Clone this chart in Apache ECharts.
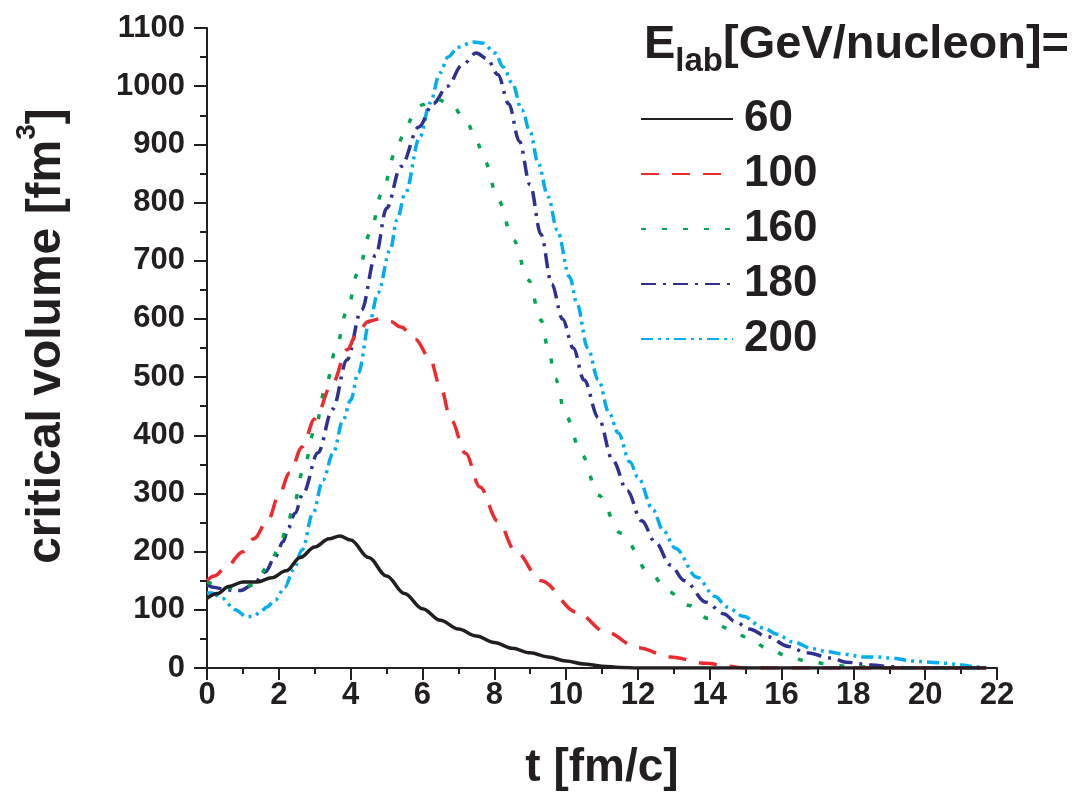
<!DOCTYPE html>
<html>
<head>
<meta charset="utf-8">
<script src="https://cdn.jsdelivr.net/npm/echarts@6/dist/echarts.min.js"></script>
<style>
html,body{margin:0;padding:0;background:#fff;}
#c{width:1088px;height:796px;}
</style>
</head>
<body>
<div id="c"></div>
<script>
// ---- data ----
const seriesNames = ['60', '100', '160', '180', '200'];
const xTicks = [0, 2, 4, 6, 8, 10, 12, 14, 16, 18, 20, 22];
const yTicks = [0, 100, 200, 300, 400, 500, 600, 700, 800, 900, 1000, 1100];

const t60 = [0, 0.3, 0.6, 1.0, 1.4, 1.8, 2.2, 2.6, 3.0, 3.4, 3.7, 4.0, 4.5, 5.0, 5.5, 6.0, 6.5, 7.0, 7.5, 8.0, 8.5, 9.0, 9.5, 10.0, 10.5, 11.0, 11.5, 12.0, 21.7];
const v60 = [120, 128, 140, 148, 148, 155, 167, 190, 208, 222, 227, 220, 190, 158, 128, 102, 82, 67, 55, 44, 34, 26, 19, 12, 7, 3, 1, 0, 0];

const t100 = [0, 0.2, 0.5, 1.0, 1.3, 1.7, 2.0, 2.3, 2.65, 3.0, 3.5, 3.9, 4.2, 4.5, 4.8, 5.1, 5.4, 5.8, 6.2, 6.5, 6.8, 7.2, 7.6, 8.1, 8.6, 9.3, 10.3, 11.1, 12.0, 12.9, 13.9, 14.5, 15.0, 21.7];
const v100 = [150, 158, 171, 200, 222, 254, 297, 335, 380, 428, 490, 547, 578, 596, 600, 596, 586, 565, 533, 483, 426, 369, 311, 252, 200, 150, 96, 62, 35, 19, 8, 3, 0, 0];

const t160 = [0, 0.3, 0.7, 1.0, 1.3, 1.7, 2.0, 2.23, 2.4, 2.68, 3.0, 3.29, 3.57, 3.89, 4.21, 4.54, 4.87, 5.24, 5.47, 5.75, 6.0, 6.3, 6.77, 7.23, 7.51, 7.74, 8.11, 8.53, 8.95, 9.3, 9.5, 9.7, 10.0, 10.44, 10.9, 11.52, 12.34, 12.85, 13.4, 13.96, 14.52, 15.07, 15.6, 16.15, 16.7, 17.27, 17.8, 19.0, 21.7];
const v160 = [148, 143, 137, 138, 143, 174, 204, 243, 277, 340, 409, 478, 543, 612, 681, 747, 816, 885, 916, 950, 968, 979, 971, 939, 905, 870, 804, 736, 667, 598, 550, 497, 432, 366, 297, 232, 163, 131, 108, 85, 68, 52, 34, 21, 12, 7, 3, 0, 0];

const t180 = [0, 0.17, 0.58, 0.92, 1.28, 1.62, 1.9, 2.12, 2.26, 2.45, 2.68, 3.09, 3.5, 3.9, 4.3, 4.7, 5.0, 5.4, 5.9, 6.3, 6.7, 7.1, 7.5, 7.8, 8.1, 8.4, 8.7, 9.0, 9.3, 9.6, 9.9, 10.2, 10.5, 10.9, 11.3, 11.7, 12.1, 12.5, 12.9, 13.3, 13.9, 14.4, 14.7, 15.1, 15.6, 16.2, 16.7, 17.4, 17.8, 18.5, 19.1, 19.5, 21.7];
const v180 = [143, 139, 134, 133, 143, 165, 191, 217, 240, 266, 301, 370, 445, 530, 615, 710, 790, 862, 930, 970, 1000, 1036, 1057, 1047, 1020, 970, 905, 830, 745, 660, 600, 550, 495, 430, 357, 305, 253, 215, 177, 150, 113, 93, 80, 67, 54, 37, 26, 17, 10, 5, 2, 0, 0];

const t200 = [0, 0.14, 0.42, 0.78, 1.11, 1.3, 1.48, 1.67, 1.9, 2.17, 2.4, 2.65, 2.95, 3.23, 3.51, 3.79, 4.0, 4.21, 4.54, 4.76, 5.1, 5.29, 5.52, 5.93, 6.21, 6.49, 6.71, 6.99, 7.41, 7.69, 8.02, 8.25, 8.5, 8.77, 9.0, 9.22, 9.5, 9.75, 10.1, 10.3, 10.6, 10.9, 11.2, 11.45, 11.78, 12.0, 12.42, 12.7, 13.04, 13.65, 14.15, 14.48, 14.93, 15.49, 15.88, 16.3, 16.88, 17.27, 17.72, 18.27, 18.66, 19.08, 19.64, 20.14, 20.6, 21.0, 21.4, 21.7];
const v200 = [129, 129, 120, 100, 88, 89, 96, 105, 117, 139, 168, 203, 266, 323, 369, 426, 460, 507, 598, 645, 718, 770, 816, 913, 971, 1023, 1050, 1067, 1076, 1074, 1057, 1033, 1005, 959, 921, 868, 810, 753, 672, 627, 550, 495, 438, 404, 354, 328, 272, 237, 206, 156, 123, 105, 89, 69, 58, 45, 33, 28, 24, 19, 19, 17, 12, 10, 8, 5, 2, 0];

const colors = ['#231f20', '#ee2a2f', '#00a651', '#2e3192', '#00aeef'];
const dashes = ['solid', [18, 13], [5, 16], [15, 7, 3, 7], [12, 5, 3, 5, 3, 5]];
const tSets = [t60, t100, t160, t180, t200];
const vSets = [v60, v100, v160, v180, v200];

const FONT = '"Liberation Sans", Arial, sans-serif';
const INK = '#231f20';

const series = seriesNames.map((name, i) => ({
  name: name,
  type: 'line',
  data: tSets[i].map((t, k) => [t, vSets[i][k]]),
  symbol: 'none',
  showSymbol: false,
  smooth: 0.35,
  smoothMonotone: 'x',
  lineStyle: { color: colors[i], width: 3.5, type: dashes[i] },
  itemStyle: { color: colors[i] },
  z: 10 - i
}));

const chart = echarts.init(document.getElementById('c'), null, { renderer: 'canvas' });
chart.setOption({
  animation: false,
  backgroundColor: '#ffffff',
  title: {
    text: '{a|E}{b|lab}{a|[GeV/nucleon]=}',
    left: 644,
    top: 22,
    padding: 0,
    textStyle: {
      rich: {
        a: { fontFamily: FONT, fontWeight: 'bold', fontSize: 47, color: INK, lineHeight: 56, verticalAlign: 'top' },
        b: { fontFamily: FONT, fontWeight: 'bold', fontSize: 33, color: INK, lineHeight: 56, verticalAlign: 'bottom' }
      }
    }
  },
  legend: {
    data: seriesNames,
    orient: 'vertical',
    left: 640,
    top: 97,
    padding: 0,
    itemWidth: 92,
    itemHeight: 14,
    itemGap: 11,
    itemStyle: { opacity: 0 },
    textStyle: { fontFamily: FONT, fontWeight: 'bold', fontSize: 44, color: INK, lineHeight: 44, padding: [0, 0, 0, 6] }
  },
  grid: { left: 207, right: 91, top: 28, bottom: 128, containLabel: false },
  xAxis: {
    type: 'value',
    min: 0, max: 22, interval: 2,
    name: 't [fm/c]',
    nameLocation: 'middle',
    nameGap: 77,
    nameTextStyle: { fontFamily: FONT, fontWeight: 'bold', fontSize: 46, color: INK },
    axisLine: { show: true, onZero: false, lineStyle: { color: INK, width: 2 } },
    axisTick: { show: true, inside: false, length: 12, lineStyle: { color: INK, width: 2 } },
    minorTick: { show: true, splitNumber: 2, length: 6, lineStyle: { color: INK, width: 2 } },
    splitLine: { show: false },
    axisLabel: { margin: 12, fontFamily: FONT, fontWeight: 'bold', fontSize: 31, color: INK,
      formatter: v => xTicks.includes(v) ? String(v) : '' }
  },
  yAxis: {
    type: 'value',
    min: 0, max: 1100, interval: 100,
    name: '{a|critical volume [fm}{s|3}{a|]}',
    nameLocation: 'middle',
    nameRotate: 90,
    nameGap: 136,
    nameTextStyle: {
      padding: [0, 0, 0, 24],
      rich: {
        a: { fontFamily: FONT, fontWeight: 'bold', fontSize: 48, color: INK, lineHeight: 58, verticalAlign: 'bottom' },
        s: { fontFamily: FONT, fontWeight: 'bold', fontSize: 28, color: INK, lineHeight: 58, verticalAlign: 'top' }
      }
    },
    axisLine: { show: true, onZero: false, lineStyle: { color: INK, width: 2 } },
    axisTick: { show: true, inside: false, length: 13, lineStyle: { color: INK, width: 2 } },
    minorTick: { show: true, splitNumber: 2, length: 7, lineStyle: { color: INK, width: 2 } },
    splitLine: { show: false },
    axisLabel: { margin: 22, fontFamily: FONT, fontWeight: 'bold', fontSize: 31, color: INK,
      formatter: v => yTicks.includes(v) ? String(v) : '' }
  },
  series: series
});
</script>
</body>
</html>
